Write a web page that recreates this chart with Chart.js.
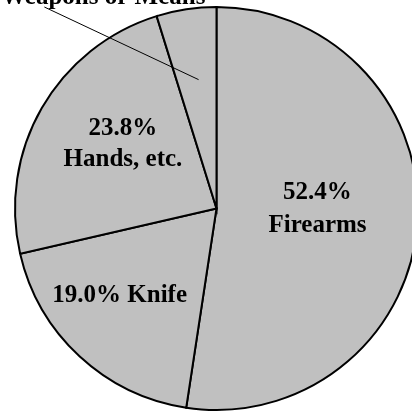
<!DOCTYPE html>
<html>
<head>
<meta charset="utf-8">
<script src="https://cdn.jsdelivr.net/npm/chart.js@4/dist/chart.umd.min.js"></script>
<style>
  html, body { margin: 0; padding: 0; background: #fff; overflow: hidden; width: 412px; height: 413px; }
  #wrap { position: absolute; left: 0; top: 0; width: 433px; height: 417px; }
</style>
</head>
<body>
<div id="wrap"><canvas id="c"></canvas></div>
<script>
// Data (clockwise from 12 o'clock)
const categories = ["Firearms", "Knife", "Hands, etc.", "Other Weapons or Means"];
const percentValues = [52.4, 19.0, 23.8, 4.8];
const labelLines = [
  ["52.4%", "Firearms"],
  ["19.0% Knife"],
  ["23.8%", "Hands, etc."],
  ["Other Weapons or Means"]
];

// Label placement (in units of pie radius, relative to centre; baselines)
const REF_R = 202.5;
const labelPlacement = [
  { x: 101.5, baselines: [-9.5, 23.5] },
  { x: -97.3, baselines: [93.5] },
  { x: -94, baselines: [-73.5, -42.5] },
  { x: -149, baselines: [-205.5], leader: [[-173, -202.5], [-18, -129.5]] }
];

const labelPlugin = {
  id: 'sliceLabels',
  afterDatasetsDraw(chart) {
    const ctx = chart.ctx;
    const meta = chart.getDatasetMeta(0);
    const arc0 = meta.data[0];
    const cx = arc0.x, cy = arc0.y, r = arc0.outerRadius;
    const s = r / REF_R;
    ctx.save();
    ctx.fillStyle = '#000';
    ctx.font = 'bold 25px "Liberation Serif", "Times New Roman", serif';
    ctx.textAlign = 'center';
    ctx.textBaseline = 'alphabetic';
    labelPlacement.forEach((p, i) => {
      labelLines[i].forEach((line, j) => {
        ctx.fillText(line, cx + p.x * s, cy + p.baselines[j] * s);
      });
      if (p.leader) {
        ctx.beginPath();
        ctx.strokeStyle = '#000';
        ctx.lineWidth = 1;
        ctx.moveTo(cx + p.leader[0][0] * s, cy + p.leader[0][1] * s);
        ctx.lineTo(cx + p.leader[1][0] * s, cy + p.leader[1][1] * s);
        ctx.stroke();
      }
    });
    ctx.restore();
  }
};

new Chart(document.getElementById('c'), {
  type: 'pie',
  data: {
    labels: categories,
    datasets: [{
      data: percentValues,
      backgroundColor: '#c0c0c0',
      borderColor: '#000',
      borderWidth: 2,
      borderJoinStyle: 'miter'
    }]
  },
  options: {
    responsive: true,
    maintainAspectRatio: false,
    animation: false,
    layout: { padding: { top: 6, bottom: 6, left: 0, right: 0 } },
    plugins: {
      legend: { display: false },
      tooltip: { enabled: false }
    }
  },
  plugins: [labelPlugin]
});
</script>
</body>
</html>
